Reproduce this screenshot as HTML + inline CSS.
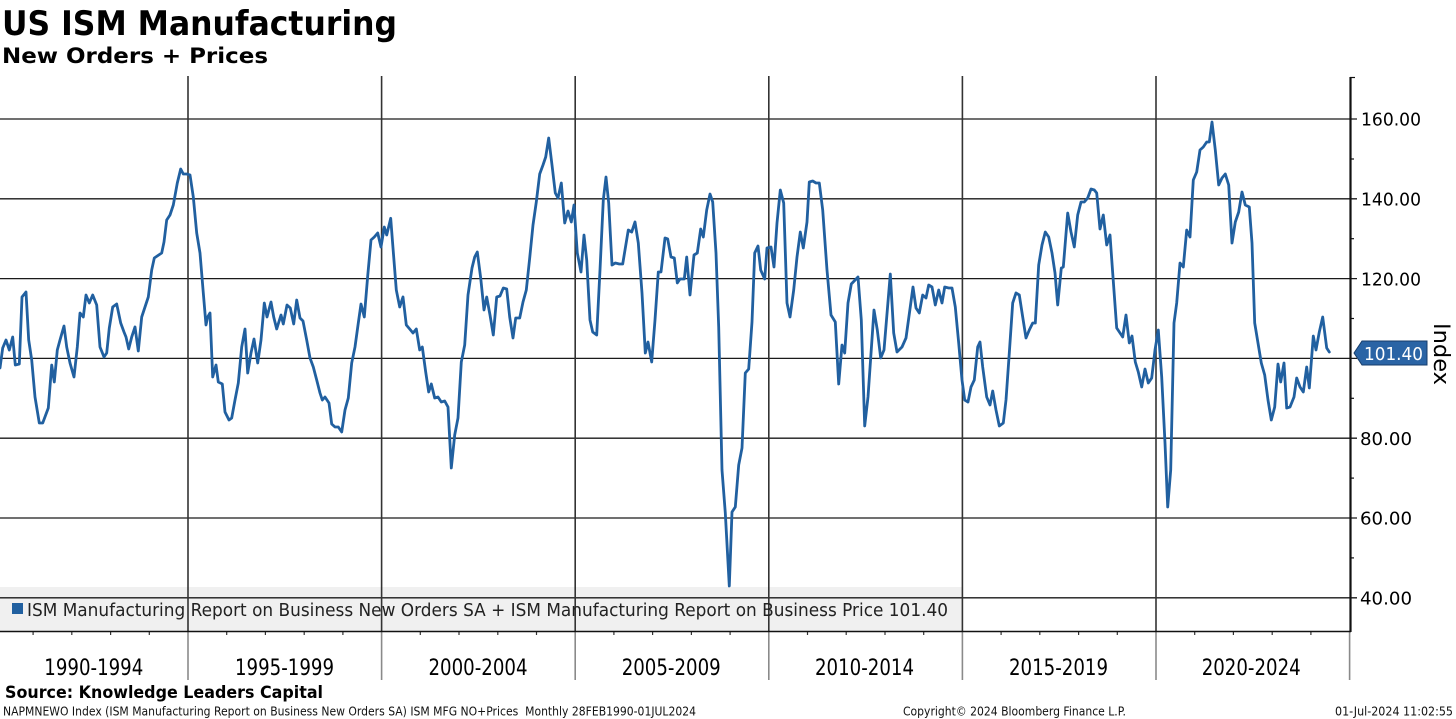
<!DOCTYPE html>
<html>
<head>
<meta charset="utf-8">
<style>
  html,body{margin:0;padding:0;background:#fff;}
  svg{display:block;}
  text{font-family:"DejaVu Sans","Liberation Sans",sans-serif;}
</style>
</head>
<body>
<svg width="1456" height="719" viewBox="0 0 1456 719" xmlns="http://www.w3.org/2000/svg">
  <rect x="0" y="0" width="1456" height="719" fill="#ffffff"/>

  <!-- Title -->
  <text x="2" y="35" font-size="34" font-weight="bold" fill="#000" textLength="395" lengthAdjust="spacingAndGlyphs">US ISM Manufacturing</text>
  <text x="2" y="63" font-size="21" font-weight="bold" fill="#000" textLength="266" lengthAdjust="spacingAndGlyphs">New Orders + Prices</text>

  <!-- Legend box -->
  <rect x="0" y="587" width="962" height="44" fill="#f0f0f0"/>

  <!-- Horizontal gridlines -->
  <g stroke="#1a1a1a" stroke-width="1.3">
    <line x1="0" y1="119" x2="1357" y2="119"/>
    <line x1="0" y1="198.8" x2="1357" y2="198.8"/>
    <line x1="0" y1="278.6" x2="1357" y2="278.6"/>
    <line x1="0" y1="358.4" x2="1357" y2="358.4"/>
    <line x1="0" y1="438.2" x2="1357" y2="438.2"/>
    <line x1="0" y1="518" x2="1357" y2="518"/>
    <line x1="0" y1="597.8" x2="1357" y2="597.8"/>
  </g>

  <!-- Vertical gridlines -->
  <g stroke="#333" stroke-width="1.6">
    <line x1="188" y1="76" x2="188" y2="631"/>
    <line x1="381.6" y1="76" x2="381.6" y2="631"/>
    <line x1="575.2" y1="76" x2="575.2" y2="631"/>
    <line x1="768.8" y1="76" x2="768.8" y2="631"/>
    <line x1="962.4" y1="76" x2="962.4" y2="631"/>
    <line x1="1156" y1="76" x2="1156" y2="631"/>
  </g>

  <!-- Period separators below axis -->
  <g stroke="#8a8a8a" stroke-width="1.6">
    <line x1="188" y1="631" x2="188" y2="680"/>
    <line x1="381.6" y1="631" x2="381.6" y2="680"/>
    <line x1="575.2" y1="631" x2="575.2" y2="680"/>
    <line x1="768.8" y1="631" x2="768.8" y2="680"/>
    <line x1="962.4" y1="631" x2="962.4" y2="680"/>
    <line x1="1156" y1="631" x2="1156" y2="680"/>
    <line x1="1349.6" y1="631" x2="1349.6" y2="680"/>
  </g>

  <!-- Year ticks -->
  <g stroke="#333" stroke-width="1.2">
    <line x1="33.1" y1="631" x2="33.1" y2="635"/>
    <line x1="71.8" y1="631" x2="71.8" y2="635"/>
    <line x1="110.6" y1="631" x2="110.6" y2="635"/>
    <line x1="149.3" y1="631" x2="149.3" y2="635"/>
    <line x1="226.7" y1="631" x2="226.7" y2="635"/>
    <line x1="265.4" y1="631" x2="265.4" y2="635"/>
    <line x1="304.2" y1="631" x2="304.2" y2="635"/>
    <line x1="342.9" y1="631" x2="342.9" y2="635"/>
    <line x1="420.3" y1="631" x2="420.3" y2="635"/>
    <line x1="459.0" y1="631" x2="459.0" y2="635"/>
    <line x1="497.8" y1="631" x2="497.8" y2="635"/>
    <line x1="536.5" y1="631" x2="536.5" y2="635"/>
    <line x1="613.9" y1="631" x2="613.9" y2="635"/>
    <line x1="652.6" y1="631" x2="652.6" y2="635"/>
    <line x1="691.4" y1="631" x2="691.4" y2="635"/>
    <line x1="730.1" y1="631" x2="730.1" y2="635"/>
    <line x1="807.5" y1="631" x2="807.5" y2="635"/>
    <line x1="846.2" y1="631" x2="846.2" y2="635"/>
    <line x1="885.0" y1="631" x2="885.0" y2="635"/>
    <line x1="923.7" y1="631" x2="923.7" y2="635"/>
    <line x1="1001.1" y1="631" x2="1001.1" y2="635"/>
    <line x1="1039.8" y1="631" x2="1039.8" y2="635"/>
    <line x1="1078.6" y1="631" x2="1078.6" y2="635"/>
    <line x1="1117.3" y1="631" x2="1117.3" y2="635"/>
    <line x1="1194.7" y1="631" x2="1194.7" y2="635"/>
    <line x1="1233.4" y1="631" x2="1233.4" y2="635"/>
    <line x1="1272.2" y1="631" x2="1272.2" y2="635"/>
    <line x1="1310.9" y1="631" x2="1310.9" y2="635"/>
  </g>

  <!-- Series -->
  <polyline fill="none" stroke="#2160a0" stroke-width="2.8" stroke-linejoin="round" stroke-linecap="round" points="
0,368 2.7,348 6,340 9.3,350 12.7,337 15.3,365 19.3,364 22,297 26,292 28.7,340 31.7,360 35,397 39.3,423 42.7,423 48.3,408 51.7,365 54.3,382 57.3,350 60,340 64,326 66.7,347 70,363 74,377 77.3,347 80,313 83.3,317 86,295 89.3,303 92.7,295 96.7,305 100,347 104,357 106.7,353 109.3,328 112.7,307 116.7,304 120.7,323 124,332 126,337 128.7,349 131.7,337 135,327 138.3,351 141.7,317 148.3,297 151.7,270 154.3,258 161.7,253 164,242 166.7,220 170,215 173.3,205 177.3,183 180.7,169 183.3,174 186.7,174 190,175 193.3,197
196.7,233 200,253 203.3,293 206,325 207.7,317 210,313 212.7,377 216,365 218.3,382 222.3,384 225,412 229,420 231.7,418 235,400 238.3,383 241.7,347 245,329 247.7,373 251,353 254,339 257.7,363 261,340 264.3,303 267,317 271,302 273.7,317 276.7,329 281,315 283.3,324 287,305 290.3,308 293.7,324 296.7,300 300,318 303,321 306.7,340 310,358 313.3,367 316.7,380 320,393 322.3,400 325,397 329,403 331.7,424 335,427 338.3,427 341.7,432 345,410 348.3,398 351.7,363 355,347 358.3,323 361,304 364.3,317 367.7,276 371,240 374.3,237 377.7,233 381,247 384.3,227
386.7,235 390.7,218.3 393,248 396.3,290 399.7,307 403,297 406.3,325 409.7,329 413,333 416.3,329 419.7,350 422.3,347 425.7,372 428.7,392 431.3,384 434.7,398 438,397 441.3,402 444.7,401 448,407 451.3,468 454.7,435 458,418 461.3,362 464.7,345 468,295 472,268 474.7,257 477.3,252 480.7,278 484,310 486.7,297 490,315 493.3,335 496.7,297 500,296 503.3,288 506.7,289 509.7,317 513,338 515.7,318 519.7,318 523,302 526.3,290 529.7,258 533,225 536.3,202 539.7,174 543,165 545.7,157 548.7,138 552,165 555.3,193 558,198 561.3,183 564.7,223 568,211 571.3,222 574,205
577.3,253 581,272 584,235 586.7,260 590,320 592.7,332 596.7,335 600,270 603.3,200 606,177 608.7,203 612,265 615.3,263 619.3,264 622.7,264 628.3,230 631.7,232 635,222 638.3,243 642,293 645.3,353 648,342 651.7,362 655,320 658.3,272 661,272 665,238 667.7,239 671,257 674.3,258 677.3,283 680,279 684.3,279 686.7,257 690,295 694,255 697.3,253 700.7,229 703.3,237 706.7,210 710,194 712.7,202 716,253 718.7,327 722,470 725.3,513 729.3,586 732,512 735.3,507 738.7,465 742,448 745.3,373 748.7,369 752,322 754.7,253 758,246 760.7,270 764.7,279 767,248
771,247 774,267 777,223 780.3,190 783.7,203 787,303 790,317 793.7,290 797,257 800.3,232 803.3,248 807,222 809.3,182 812.7,181 816,183 819.3,183 822.7,210 827,270 831,315 835.3,322 838.7,384 842,345 844.7,353 848,303 851.3,284 858,277 861.3,320 864.7,426 868,397 874,310 877.3,330 880.7,358 884,350 890.3,274 893.7,333 897,352 902,347 906,338 913,287 916,308 919.3,313 922.7,295 926,298 928.7,285 932,287 935.3,305 938.7,290 942,303 944.7,287 948.7,288 952,288 955.3,307 958.7,343 962,380
964.7,400 968,402 971,387 974.3,380 977.7,347 980,342 982.7,367 986.7,397 990,405 992.7,391 996,410 999.3,426 1003.3,423 1006,400 1009.3,353 1012.7,303 1016,293 1019.3,295 1022.7,317 1026,338 1029.3,330 1032.7,323 1035.3,323 1038.7,265 1042,245 1045.3,232 1048.7,237 1052,253 1055,273 1057.7,305 1061.3,268 1063.3,267 1067.7,213 1071,232 1074.3,247 1077.7,215 1081,202 1084.3,202 1087.7,198 1091,189 1094.3,190 1096.7,193 1100,229 1103.3,215 1106.7,245 1110,235 1112.7,273 1116.7,328 1122.7,337 1126,315 1129.3,343 1132,336 1135.3,362 1138.3,372 1141.7,387 1145,369 1148.3,383 1151.7,378
1155,350 1158.3,330 1161.7,377 1165,443 1167.7,507 1170.7,470 1174,323 1176.7,303 1180,263 1183.3,267 1186.7,230 1190,237 1193.3,180 1196.7,172 1200,150 1203.3,147 1206.7,142 1209.3,142 1212,122 1215.3,150 1218.7,185 1222,178 1225.3,174 1228.7,185 1232,243 1235.3,222 1238.7,212 1242,192 1245.3,205 1249.3,207 1252,243 1254.7,323 1258,343 1261.3,363 1264.7,375 1268,400 1271.3,420 1274.7,407 1278,364 1280.7,382 1284,363 1286.7,408 1290,407 1294,397 1296.7,378 1300,387 1303.3,392 1306.7,367 1309.3,388 1313.3,336 1316,350 1319.3,332 1322.7,317 1326.7,348 1329.3,352"/>

  <!-- Bottom axis line -->
  <line x1="0" y1="631.5" x2="1351" y2="631.5" stroke="#111" stroke-width="1.5"/>

  <!-- Right axis -->
  <line x1="1350.5" y1="77" x2="1350.5" y2="632" stroke="#111" stroke-width="2.2"/>
  <g stroke="#111" stroke-width="1.2">
    <line x1="1350" y1="77.5" x2="1355" y2="77.5"/>
    <line x1="1350" y1="159" x2="1354" y2="159"/>
    <line x1="1350" y1="238.7" x2="1354" y2="238.7"/>
    <line x1="1350" y1="318.5" x2="1354" y2="318.5"/>
    <line x1="1350" y1="398.3" x2="1354" y2="398.3"/>
    <line x1="1350" y1="478.1" x2="1354" y2="478.1"/>
    <line x1="1350" y1="557.9" x2="1354" y2="557.9"/>
  </g>

  <!-- Right axis labels -->
  <g font-size="18" fill="#000">
    <text x="1361" y="125.7" textLength="60" lengthAdjust="spacingAndGlyphs">160.00</text>
    <text x="1361" y="205.5" textLength="60" lengthAdjust="spacingAndGlyphs">140.00</text>
    <text x="1361" y="285.3" textLength="60" lengthAdjust="spacingAndGlyphs">120.00</text>
    <text x="1360" y="445" textLength="52" lengthAdjust="spacingAndGlyphs">80.00</text>
    <text x="1360" y="524.7" textLength="52" lengthAdjust="spacingAndGlyphs">60.00</text>
    <text x="1360" y="604.5" textLength="52" lengthAdjust="spacingAndGlyphs">40.00</text>
  </g>

  <!-- Last value label -->
  <polygon points="1354,353 1362,341 1427,341 1427,365 1362,365" fill="#2a64a5" stroke="#173d6b" stroke-width="1"/>
  <text x="1364" y="360" font-size="18" fill="#ffffff" textLength="59" lengthAdjust="spacingAndGlyphs">101.40</text>

  <!-- Index axis title -->
  <text transform="translate(1434,323) rotate(90)" x="0" y="0" font-size="22" fill="#000" textLength="62" lengthAdjust="spacingAndGlyphs">Index</text>

  <!-- Legend content -->
  <rect x="12" y="603" width="11" height="11" fill="#2160a0"/>
  <text x="27" y="616" font-size="18" fill="#222" textLength="921" lengthAdjust="spacingAndGlyphs">ISM Manufacturing Report on Business New Orders SA + ISM Manufacturing Report on Business Price 101.40</text>

  <!-- Period labels -->
  <g font-size="22" fill="#000">
    <text x="44.3" y="675" textLength="99" lengthAdjust="spacingAndGlyphs">1990-1994</text>
    <text x="235" y="675" textLength="99" lengthAdjust="spacingAndGlyphs">1995-1999</text>
    <text x="428.5" y="675" textLength="99" lengthAdjust="spacingAndGlyphs">2000-2004</text>
    <text x="621.7" y="675" textLength="99" lengthAdjust="spacingAndGlyphs">2005-2009</text>
    <text x="815" y="675" textLength="99" lengthAdjust="spacingAndGlyphs">2010-2014</text>
    <text x="1009" y="675" textLength="99" lengthAdjust="spacingAndGlyphs">2015-2019</text>
    <text x="1201.7" y="675" textLength="99" lengthAdjust="spacingAndGlyphs">2020-2024</text>
  </g>

  <!-- Footer -->
  <text x="5" y="698" font-size="17" font-weight="bold" fill="#000" textLength="318" lengthAdjust="spacingAndGlyphs">Source: Knowledge Leaders Capital</text>
  <text x="3" y="715.5" font-size="12" fill="#111" textLength="693" lengthAdjust="spacingAndGlyphs">NAPMNEWO Index (ISM Manufacturing Report on Business New Orders SA) ISM MFG NO+Prices&#160; Monthly 28FEB1990-01JUL2024</text>
  <text x="903" y="715.5" font-size="12" fill="#111" textLength="223" lengthAdjust="spacingAndGlyphs">Copyright© 2024 Bloomberg Finance L.P.</text>
  <text x="1335" y="715.5" font-size="12" fill="#111" textLength="118" lengthAdjust="spacingAndGlyphs">01-Jul-2024 11:02:55</text>
</svg>
</body>
</html>
